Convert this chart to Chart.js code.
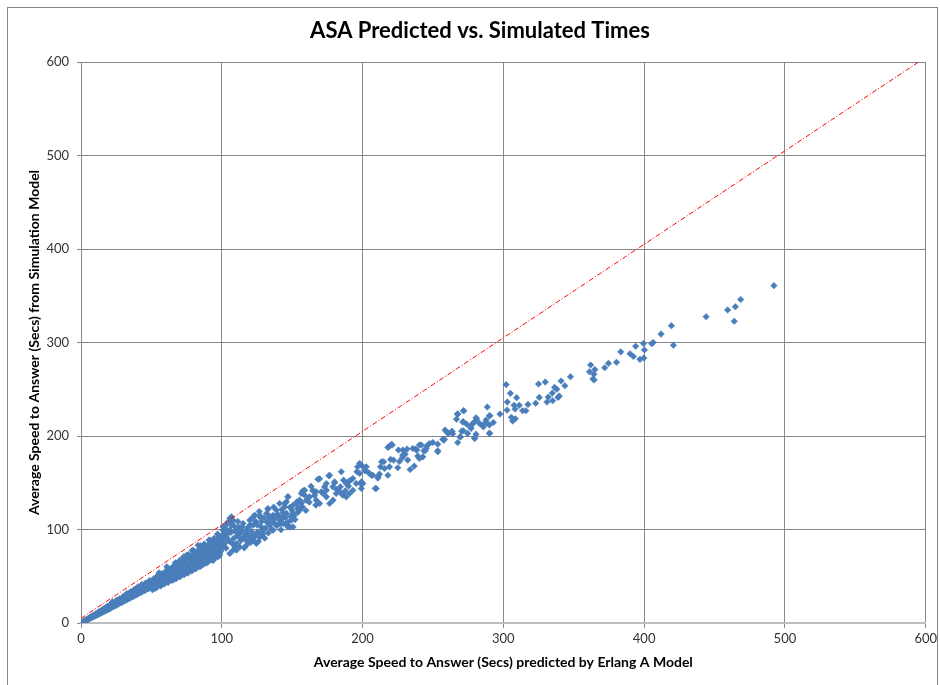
<!DOCTYPE html>
<html>
<head>
<meta charset="utf-8">
<script src="https://cdn.jsdelivr.net/npm/chart.js@4.4.0/dist/chart.umd.min.js"></script>
<style>
  html, body { margin: 0; padding: 0; background: #fff; }
  canvas { display: block; }
</style>
</head>
<body>
<canvas id="asaCanvas" width="940" height="685"></canvas>
<script>
// predicted (Erlang A) vs simulated ASA as [x, y]
const pointsLow = [
  [0.4,0.5],[0.8,0.6],[1.2,1.1],[1.6,1.3],[2.1,1.9],[2.5,2.2],[3.0,2.5],[3.3,3.2],[3.8,3.0],[4.2,3.9],
  [4.6,3.5],[5.1,4.6],[5.5,4.2],[6.0,5.7],[6.4,4.9],[6.9,6.3],[7.3,5.6],[7.8,7.4],[8.2,6.1],[8.7,8.0],
  [9.1,7.0],[9.6,8.9],[10.2,7.6],[10.7,9.8],[11.3,8.4],[11.8,10.9],[12.4,9.2],[12.9,12.3],[13.5,10.1],[14.0,12.8],
  [14.6,10.7],[15.2,14.5],[15.8,11.9],[16.3,15.1],[16.9,12.6],[17.5,16.4],[18.1,13.5],[18.6,17.8],[19.2,14.4],[19.9,18.3],
  [20.5,15.1],[21.0,19.9],[21.7,16.6],[22.3,22.6],[22.9,17.2],[23.5,21.1],[24.2,18.5],[24.8,23.7],[25.4,19.0],[26.0,22.4],
  [26.7,20.3],[27.3,25.9],[27.9,21.6],[28.6,24.8],[29.2,22.0],[29.9,28.3],[30.5,23.5],[31.2,27.0],[31.8,24.1],[32.5,31.6],
  [33.1,25.4],[33.8,29.7],[34.4,26.2],[35.1,33.4],[35.8,27.5],[36.4,31.0],[37.1,28.2],[37.8,35.9],[38.4,29.6],[39.1,33.9],
  [39.8,30.3],[40.5,38.7],[41.1,31.8],[41.8,35.6],[42.5,32.5],[43.2,41.2],[43.8,33.9],[44.5,38.0],[45.2,34.6],[45.9,42.7],
  [46.6,36.1],[47.3,40.4],[48.0,36.8],[48.7,45.5],[49.4,38.4],
  [12,10.4],[16,13.7],[20,16.8],[24,20.6],[28,23.5],[32,26.9],[36,30.1],[40,33.6],[44,37.2],[48,40.9],
  [18,15.9],[26,21.9],[34,28.4],[42,36.1],[30,25.2],[38,32.0],[46,39.3],[22,18.9],[14,11.6],[9,7.8],[5,4.1],[3,2.7],
  [20.8,17.9],[23.1,19.8],[25.9,24.6],[27.6,23.9],[29.5,25.8],[31.4,29.2],[33.3,27.8],[35.4,30.6],[36.9,33.5],[39.4,36.8],
  [41.4,34.2],[43.6,36.5],[45.5,40.9],[47.7,43.2],[49.7,42.1]
];

const pointsMid = [
  [50.1,42.9],[50.8,35.6],[51.5,47.1],[52.2,39.7],[52.9,44.6],[53.6,37.8],[54.3,50.2],[55.0,41.3],[55.7,46.9],[56.4,39.5],
  [57.1,52.8],[57.8,43.6],[58.5,48.7],[59.2,41.8],[59.9,55.1],[60.6,45.9],[61.3,51.4],[62.0,43.5],[62.7,57.6],[63.4,48.2],
  [64.1,53.9],[64.8,45.6],[65.5,60.3],[66.2,50.4],[66.9,56.1],[67.6,47.3],[68.3,62.7],[69.0,52.8],[69.7,58.4],[70.4,49.5],
  [71.1,65.2],[71.8,55.3],[72.5,61.0],[73.2,51.6],[73.9,67.8],[74.6,57.9],[75.3,63.5],[76.0,53.4],[76.7,70.6],[77.4,60.2],
  [78.1,66.4],[78.8,55.8],[79.5,73.1],[80.2,62.7],[80.9,68.9],[81.6,58.0],[82.3,75.9],[83.0,65.4],[83.7,71.2],[84.4,60.1],
  [85.1,78.4],[85.8,67.6],[86.5,74.0],[87.2,62.9],[87.9,81.2],[88.6,70.3],[89.3,76.5],[90.0,65.1],[90.7,84.0],[91.4,72.6],
  [92.1,79.3],[92.8,67.4],[93.5,86.7],[94.2,75.4],[94.9,81.8],[95.6,70.2],[96.3,89.5],[97.0,77.9],[97.7,84.6],[98.4,72.3],
  [99.1,92.0],[99.8,80.6],
  [52,42.5],[56,45.1],[60,48.6],[64,51.2],[68,55.0],[72,58.3],[76,62.1],[80,65.0],[84,68.9],[88,72.4],
  [92,75.8],[96,79.2],[58,50.7],[66,53.5],[74,60.8],[82,67.5],[90,74.1],[98,82.0],[62,53.0],[70,61.2],
  [78,64.0],[86,70.9],[94,78.7],[61,60.2],[67,64.5],[73,70.8],[79,77.5],[85,82.6],[91,88.7],[97,95.1],
  [79.7,77.8],[77.3,70.7],[75.0,72.5],[72.6,65.3],[70.2,67.1],[67.9,63.6],[65.5,60.0],[83.2,83.2],[86.7,74.3],[89.1,81.4],
  [91.5,88.5],[93.8,79.7],[96.2,85.0],[98.6,74.3],[99.8,88.5],
  [51.2,38.4],[53.1,48.3],[54.8,44.0],[56.9,49.5],[58.8,46.1],[60.2,52.7],[61.9,47.4],[63.7,55.8],[65.2,49.0],[66.6,58.9],
  [68.8,51.2],[70.1,63.4],[71.5,52.0],[73.6,64.5],[75.8,59.1],[77.9,68.8],[79.2,59.4],[81.3,72.6],[82.7,63.2],[84.8,74.9],
  [86.2,65.3],[88.2,77.7],[89.7,68.0],[91.1,81.6],[93.1,73.5],[95.2,86.3],[96.7,74.6],[98.1,87.9],[99.4,77.1],
  [52.6,36.9],[57.3,40.6],[61.6,44.0],[65.9,46.6],[69.4,50.6],[74.2,53.0],[77.1,56.3],[81.0,57.9],[85.5,61.4],[89.0,64.2],
  [93.9,66.9],[97.4,70.8],[64.5,58.3],[72.0,68.2],[80.6,76.0],[87.6,84.5],[94.6,90.7],[55.4,53.6],[69.9,64.9],[76.4,73.3],
  [83.9,79.0],[91.8,85.4]
];

const pointsUpperMid = [
  [103,100.5],[107,106.8],[109,103.4],[100.9,99.3],[102.1,85.0],[103.3,92.1],[105.7,99.3],[105.7,111.8],[108.0,110.0],[110.4,99.3],
  [112.8,95.7],[115.1,106.4],[117.5,99.3],[119.9,110.0],[122.2,104.6],[123.4,115.3],[127.0,113.5],[106.9,113.5],[104.5,108.1],[100.9,102.8],
  [119.9,92.1],[124.6,95.7],[129.3,99.3],[117.5,88.5],[110.4,85.0],[108.0,77.8],[105.7,74.3],[112.8,81.4],[122.2,88.5],[134.0,104.6],
  [128.1,102.8],[131.7,117.1],[137.6,111.8],[127.0,92.1],[117.5,83.2],[132.8,121.7],[136.4,115.3],[134.0,111.8],[137.6,106.4],[141.1,110.0],
  [148.2,102.8],[147.0,108.1],[138.8,120.7],[143.5,117.8],[144.7,124.2],[145.9,129.6],[150.6,126.0],[153.4,129.6],[155.3,131.4],[158.9,136.7],
  [157.7,141.0],[164.8,142.0],[168.3,153.8],[132.8,122.5],[127.0,115.3],[122.2,113.5],[147.0,104.6],[141.1,106.4],[147.0,134.9],[141.1,127.8],
  [124.6,85.0],[110.4,77.8],[100.9,81.4],[136.4,99.3],[150.6,102.8],
  [101.5,90.2],[103.0,80.1],[104.0,95.5],[106.0,86.8],[107.0,104.2],[108.5,90.6],[109.0,82.3],[111.0,93.1],[112.0,102.5],[113.5,87.9],
  [114.0,97.6],[115.5,91.8],[116.0,80.4],[118.0,95.2],[119.0,102.9],[120.5,86.1],[121.0,98.0],[123.0,91.6],[124.0,108.7],[125.5,97.4],
  [126.0,87.3],[128.0,108.3],[129.0,95.0],[130.0,112.3],[130.5,90.7],[131.0,101.6],[133.0,96.3],[135.0,108.9],[135.5,100.2],[139.0,104.1],
  [140.0,114.6],[142.0,99.8],[143.0,112.4],[144.0,106.3],[146.0,117.2],[149.0,113.8],[150.0,120.4],[152.0,110.6],[154.0,118.3],[156.0,124.9],
  [101.2,95.1],[102.7,104.3],[104.8,88.2],[106.4,96.9],[107.9,84.7],[109.6,97.8],[111.4,108.6],[113.1,91.0],[114.6,102.7],[116.8,94.4],
  [118.6,86.7],[120.2,104.8],[121.7,93.3],[125.1,104.9],[126.6,119.3],[128.9,97.6],[131.9,108.1],[133.6,114.6],[136.9,123.9],[139.6,116.2],
  [142.7,121.4],[145.2,112.9],[148.5,123.7],[151.3,114.8],[153.9,122.6],[156.8,128.7],[159.7,120.4],[162.1,129.2],[165.9,136.4],[163.4,146.3],
  [166.8,126.1]
];

const pointsHigh = [
  [157.7,141.3],[164.8,141.3],[162.4,134.9],[160.1,131.4],[157.2,124.2],[155.3,120.7],[153.0,127.8],[150.6,117.1],[147.0,134.9],[144.7,127.8],
  [143.5,113.5],[142.3,106.4],[147.0,102.8],[149.4,110.0],[167.1,131.4],[169.5,127.8],[171.9,138.5],[174.3,134.9],[176.6,127.8],[179.0,131.4],
  [181.3,138.5],[183.7,140.3],[186.0,136.7],[188.4,134.9],[190.8,138.5],[193.1,142.0],[195.5,149.2],[197.9,160.0],[200.2,149.2],[199.1,143.9],
  [169.5,154.2],[170.7,140.3],[173.0,145.6],[174.3,149.2],[176.1,157.4],[178.9,145.6],[180.1,149.9],[181.8,142.8],[185.3,138.5],[184.2,145.6],
  [187.7,141.3],[186.5,152.8],[190.0,146.4],[188.4,149.2],[191.5,152.8],[193.1,154.6],[196.0,161.7],[196.5,167.0],[197.9,170.7],[199.1,148.5],
  [199.8,167.8],[202.1,162.7],[202.6,167.0],[204.5,160.6],[207.3,158.0],[209.0,143.9],[210.9,155.0],[212.0,159.2],[215.6,165.3],[212.8,167.0],
  [215.0,172.4],[218.0,158.0],[219.1,167.0],[219.9,175.0],[222.0,174.2],[220.6,191.0],[218.0,187.8],[225.5,185.0],[225.0,166.0],[226.2,172.8],
  [232.1,174.2],[228.2,176.7],[230.3,180.6],[228.6,185.0],[231.6,186.0],[233.8,164.2],[236.7,167.8],[240.4,176.0],[237.7,186.0],[240.4,190.3],
  [242.8,177.7],[244.5,184.2],[245.6,189.2],[247.5,192.0],[249.9,193.0],[253.4,184.2],[257.7,195.6],[257.0,196.4],[264.0,202.4],[260.3,203.4],
  [258.6,206.3],[263.6,205.0],[267.6,193.0],[269.5,199.0],[270.4,205.2],[271.2,214.9],[266.7,218.0],[267.6,223.4],[271.9,227.0],[274.6,202.8],
  [279.4,197.8],[276.6,209.8],[279.0,214.5],[280.6,219.5],[283.0,213.5],[284.9,211.7],[285.8,209.8],[287.7,214.5],[292.9,214.5],[288.6,231.0],
  [290.3,203.0],[290.0,221.6],[297.6,223.4],
  [219.1,189.2],[213.5,172.4],[201.4,163.5],[206.2,158.1],[210.9,156.3],[199.1,150.9],[209.7,143.9],[184.9,161.7],[176.6,158.1],[180.1,150.9],
  [189.6,150.9],[174.3,142.0],[167.1,140.3],[158.9,142.0],[156.5,138.5],
  [290.5,221.6],[290.1,211.7],[287.7,217.0],[281.1,217.8],[278.4,213.5],[277.1,208.1],[280.6,202.0],[271.6,227.0],[267.4,223.4],[271.6,215.2],
  [273.9,212.7],[271.6,205.6],[269.3,199.1],[279.7,197.4],[290.1,202.8],[263.3,204.5],[261.0,202.8],[258.2,196.4],[253.4,191.3],[245.2,186.7],
  [243.5,184.2],[241.7,190.3],[238.5,184.9],[235.7,186.7],[228.6,179.6],[221.0,190.3],[239.2,178.5],[253.4,183.1]
];

const pointsTail = [
  [302.0,255.0],[305.0,245.6],[302.8,236.3],[302.6,227.7],[309.4,241.0],[307.6,232.8],[308.3,228.8],[305.7,220.0],[306.6,216.0],[308.5,218.4],
  [311.3,232.8],[313.7,227.0],[316.0,227.0],[317.5,233.8],[323.0,235.0],[325.0,255.6],[325.5,241.3],[329.8,257.7],[331.9,241.6],[331.0,236.3],
  [334.8,245.9],[335.0,237.7],[336.4,252.0],[338.0,250.0],[339.7,242.7],[338.8,241.3],[341.0,258.8],[343.7,253.7],[347.7,263.4],[361.2,268.7],
  [362.0,276.0],[364.3,266.0],[363.6,261.0],[364.5,260.0],[365.0,271.0],[372.0,273.0],[374.7,277.7],[380.4,278.8],[383.4,290.0],[390.0,288.0],
  [392.4,285.0],[397.0,282.0],[399.8,283.4],[394.0,296.0],[399.5,299.0],[400.2,292.0],[405.4,298.7],[406.4,300.0],[412.0,309.0],[419.4,318.0],
  [420.8,297.0],[444.0,327.6],[459.3,334.8],[464.0,322.7],[464.8,338.3],[468.6,346.0],[492.2,360.8]
];

// red dash-dot reference line
const refLineX = [0, 595];
const refLineY = [5, 600];

const chartTitle = 'ASA Predicted vs. Simulated Times';
const xTitle = 'Average Speed to Answer (Secs) predicted by Erlang A Model';
const yTitle = 'Average Speed to Answer (Secs) from Simulation Model';

const toXY = pairs => pairs.map(p => ({ x: p[0], y: p[1] }));
const scatterData = toXY([].concat(pointsLow, pointsMid, pointsUpperMid, pointsHigh, pointsTail));
const lineData = refLineX.map((x, i) => ({ x: x, y: refLineY[i] }));

// outer frame and the title (title sits centred on the frame, not on the layout box)
const framePlugin = {
  id: 'frame',
  beforeDraw(chart) {
    const ctx = chart.ctx;
    ctx.save();
    ctx.fillStyle = '#fff';
    ctx.fillRect(0, 0, chart.width, chart.height);
    ctx.strokeStyle = '#868686';
    ctx.lineWidth = 1;
    ctx.strokeRect(7.5, 7.5, 930, 700);
    ctx.fillStyle = '#000';
    ctx.font = 'bold 22px Lato';
    ctx.textAlign = 'center';
    ctx.textBaseline = 'middle';
    ctx.fillText(chartTitle, 480, 31);
    ctx.restore();
  }
};

const tickFont = { family: 'Lato', size: 13 };
const axisTitleFont = { family: 'Lato', size: 14, weight: 'bold' };

new Chart(document.getElementById('asaCanvas').getContext('2d'), {
  type: 'scatter',
  data: {
    datasets: [
      {
        label: 'Simulated',
        data: scatterData,
        pointStyle: 'rectRot',
        pointRadius: 3.3,
        backgroundColor: '#4a7ebb',
        borderColor: 'rgba(74,126,187,0.45)',
        borderWidth: 1,
        order: 2
      },
      {
        label: 'y = x',
        type: 'line',
        data: lineData,
        showLine: true,
        borderColor: '#ff0000',
        borderWidth: 1,
        borderDash: [5, 2, 1, 2],
        pointRadius: 0,
        fill: false,
        order: 1
      }
    ]
  },
  options: {
    responsive: false,
    animation: false,
    events: [],
    layout: { padding: { top: 62, right: 13, bottom: 0, left: 0 } },
    plugins: {
      legend: { display: false },
      tooltip: { enabled: false },
      title: { display: false }
    },
    scales: {
      x: {
        type: 'linear',
        min: 0,
        max: 600,
        ticks: { stepSize: 100, font: tickFont, color: '#333', padding: 3 },
        grid: { color: '#878787', tickLength: 5 },
        border: { color: '#bdbdbd', width: 2 },
        title: { display: true, text: xTitle, color: '#000', font: axisTitleFont, padding: { top: 2, bottom: 14 } },
        afterFit(scale) { scale.height = 62; }
      },
      y: {
        type: 'linear',
        min: 0,
        max: 600,
        ticks: { stepSize: 100, font: tickFont, color: '#333', padding: 8 },
        grid: { color: '#878787', tickLength: 4 },
        border: { color: '#868686', width: 1 },
        title: { display: true, text: yTitle, color: '#000', font: axisTitleFont, padding: { top: 26, bottom: 4 } },
        afterFit(scale) { scale.width = 81; }
      }
    }
  },
  plugins: [framePlugin]
});
</script>
</body>
</html>
